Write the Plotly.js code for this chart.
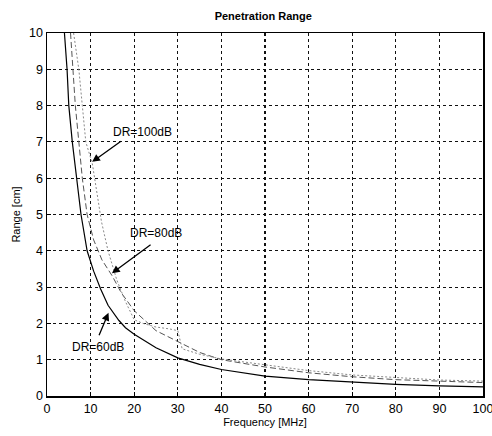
<!DOCTYPE html>
<html>
<head>
<meta charset="utf-8">
<script src="https://cdn.plot.ly/plotly-3.0.1.min.js"></script>
<style>html,body{margin:0;padding:0;background:#fff;}#chart{width:492px;height:436px;}</style>
</head>
<body>
<div id="chart"></div>
<script>
// Frequency [MHz] and penetration range [cm] for each dynamic range
const freq60 = [4, 4.6, 5, 5.8, 6.8, 7.8, 9.2, 10.7, 12.3, 14, 16.5, 18, 20, 25, 30, 35, 40, 50, 60, 70, 80, 90, 100];
const range60 = [10, 9, 8, 7, 6, 5, 4, 3.44, 2.95, 2.5, 2.08, 1.88, 1.7, 1.33, 1.05, 0.87, 0.73, 0.55, 0.45, 0.38, 0.32, 0.28, 0.25];

const freq80 = [5.4, 6, 6.5, 7.3, 8.1, 9.2, 10.7, 12.6, 15, 17, 20, 25, 30, 35, 40, 50, 60, 70, 80, 90, 100];
const range80 = [10, 9, 8, 7, 6, 5, 4.3, 3.75, 3.3, 2.85, 2.35, 1.8, 1.5, 1.2, 1.0, 0.8, 0.64, 0.53, 0.45, 0.4, 0.37];

const freq100 = [6.1, 7.3, 8.1, 8.9, 10.4, 11.5, 12.5, 14, 16, 18, 20, 22, 25, 28, 30, 31, 35, 40, 50, 60, 70, 80, 90, 100];
const range100 = [10, 9, 8, 7, 6.4, 5.5, 4.8, 4.0, 3.2, 2.6, 2.1, 2.0, 1.9, 1.85, 1.8, 1.3, 1.15, 1.02, 0.85, 0.7, 0.58, 0.5, 0.44, 0.41];

const seriesNames = ['DR=60dB', 'DR=80dB', 'DR=100dB'];
// label text position [f, r], arrow tail [f, r], arrow head [f, r]
const labelPos = [[11.7, 1.36], [25, 4.49], [21.8, 7.28]];
const arrowTail = [[11.8, 1.63], [24.1, 4.2], [17.3, 7.05]];
const arrowHead = [[14.1, 2.29], [14.9, 3.38], [10.35, 6.45]];

const font = 'Liberation Sans, Arial, sans-serif';

const traces = [
  {x: freq60, y: range60, name: seriesNames[0], mode: 'lines', line: {color: '#000', width: 1.2, dash: 'solid'}},
  {x: freq80, y: range80, name: seriesNames[1], mode: 'lines', line: {color: '#555', width: 1, dash: '6px,3px'}},
  {x: freq100, y: range100, name: seriesNames[2], mode: 'lines', line: {color: '#8a8a8a', width: 1, dash: '2px,2px'}}
];

const annotations = [];
for (let i = 0; i < 3; i++) {
  annotations.push({
    x: labelPos[i][0], y: labelPos[i][1], xref: 'x', yref: 'y',
    text: seriesNames[i], showarrow: false,
    font: {family: font, size: 12, color: '#000'}
  });
  annotations.push({
    x: arrowHead[i][0], y: arrowHead[i][1], xref: 'x', yref: 'y',
    ax: arrowTail[i][0], ay: arrowTail[i][1], axref: 'x', ayref: 'y',
    text: '', showarrow: true, arrowhead: 2, arrowsize: 1.2, arrowwidth: 1.3,
    arrowcolor: '#000', standoff: 0, startstandoff: 0
  });
}

const axisCommon = {
  showline: true, linecolor: '#000', linewidth: 1.5, mirror: true,
  showgrid: true, gridcolor: '#111', gridwidth: 1.1, griddash: '3px,3px',
  zeroline: false, ticks: 'inside', ticklen: 4, tickcolor: '#000',
  ticklabeloverflow: 'allow',
  tickfont: {family: font, size: 12.5, color: '#000'}
};

const layout = {
  width: 492, height: 436,
  margin: {l: 47, r: 9, t: 33, b: 40},
  paper_bgcolor: '#fff', plot_bgcolor: '#fff',
  showlegend: false,
  title: {text: 'Penetration Range', font: {family: font, size: 11, color: '#000', weight: 'bold'}, x: 0.535, xanchor: 'center', y: 0.962, yanchor: 'middle'},
  xaxis: Object.assign({}, axisCommon, {range: [0, 100], dtick: 10, tick0: 0,
    title: {text: 'Frequency [MHz]', font: {family: font, size: 11, color: '#000'}, standoff: 4}}),
  yaxis: Object.assign({}, axisCommon, {range: [0, 10], dtick: 1, tick0: 0,
    title: {text: 'Range [cm]', font: {family: font, size: 11, color: '#000'}, standoff: 6}}),
  annotations: annotations
};

Plotly.newPlot('chart', traces, layout, {displayModeBar: false, staticPlot: true});
</script>
</body>
</html>
